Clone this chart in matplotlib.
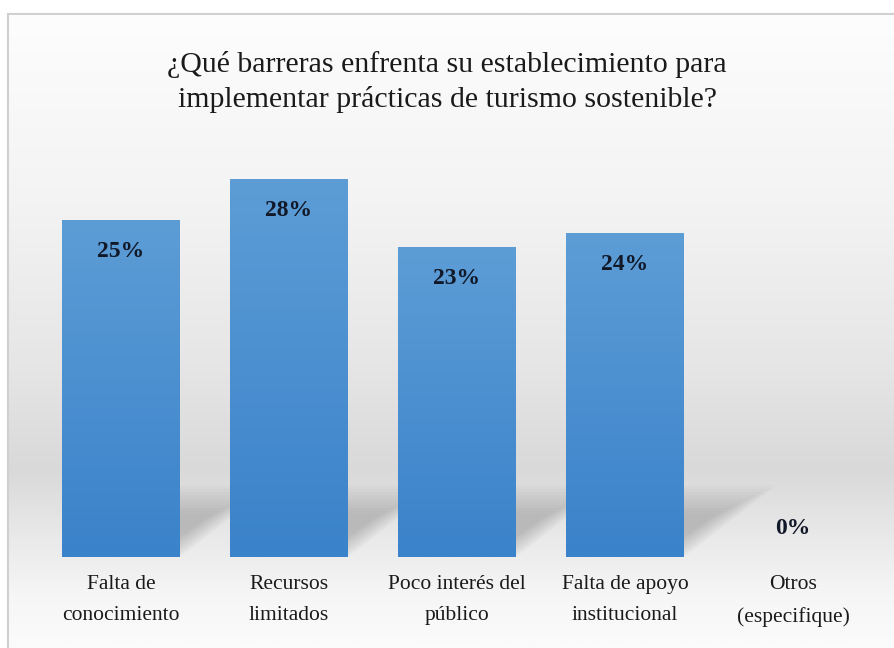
import numpy as np
import matplotlib
matplotlib.use("Agg")
import matplotlib.pyplot as plt
from matplotlib.colors import LinearSegmentedColormap
from matplotlib.patches import Polygon, Rectangle

plt.rcParams['font.family'] = ['Liberation Serif', 'DejaVu Serif']

categories = ["Falta de\nconocimiento", "Recursos\nlimitados", "Poco interés del\npúblico",
              "Falta de apoyo\ninstitucional", "Otros\n(especifique)"]
values = [0.25, 0.28, 0.23, 0.24, 0.00]
value_labels = ["25%", "28%", "23%", "24%", "0%"]
title = "¿Qué barreras enfrenta su establecimiento para\nimplementar prácticas de turismo sostenible?"

W, H = 894, 648
fig = plt.figure(figsize=(W / 100, H / 100), dpi=100)
fig.patch.set_facecolor("white")

# background panel with vertical gradient
bg = fig.add_axes([8 / W, 0, 1 - 8 / W, 1 - 14 / H], zorder=0)
stops = [(0.0, "#fdfdfd"), (0.30, "#f3f3f3"), (0.55, "#e6e6e6"), (0.72, "#d9d9d9"),
         (0.82, "#e8e8e8"), (0.92, "#f6f6f6"), (1.0, "#fbfbfb")]
bgcmap = LinearSegmentedColormap.from_list("bg", stops)
grad = np.linspace(0, 1, 400).reshape(-1, 1)
bg.imshow(grad, aspect="auto", cmap=bgcmap, extent=[0, 1, 0, 1], origin="upper")
bg.set_xlim(0, 1); bg.set_ylim(0, 1)
bg.axis("off")

# frame lines
fig.add_artist(plt.Line2D([8 / W, 1], [1 - 14 / H, 1 - 14 / H], color="#d0d0d0", lw=1.5, transform=fig.transFigure))
fig.add_artist(plt.Line2D([8 / W, 8 / W], [0, 1 - 14 / H], color="#d0d0d0", lw=1.5, transform=fig.transFigure))

# main axes
left_px, right_px = 37, 877
bottom_px, top_px = 557, 152
ax = fig.add_axes([left_px / W, 1 - bottom_px / H, (right_px - left_px) / W, (bottom_px - top_px) / H], zorder=1)
ax.patch.set_alpha(0)
for s in ax.spines.values():
    s.set_visible(False)
ax.set_yticks([])
ax.set_xticks(range(len(categories)))
ax.set_xticklabels(categories, fontsize=15.5, color="#1a1a1a", linespacing=1.85)
ax.tick_params(axis="x", length=0, pad=13)

bar_w = 0.70
barcmap = LinearSegmentedColormap.from_list("bar", ["#3a82ca", "#5d9dd6"])
bgrad = np.linspace(0, 1, 200).reshape(-1, 1)

bars = ax.bar(range(len(categories)), values, width=bar_w, color="none", zorder=3)

# soft shadows
sh_h = 0.053
sh_dx = 0.55
n_layers = 10
for i, v in enumerate(values):
    if v <= 0:
        continue
    x0 = i - bar_w / 2
    x1 = i + bar_w / 2
    for k in range(n_layers):
        s = 1.0 - k * 0.045
        poly = Polygon([(x0, 0), (x1 - 0.02 * k, 0),
                        (x1 + sh_dx * s - 0.015 * k, sh_h * s),
                        (x0 + sh_dx * s, sh_h * s)],
                       closed=True, facecolor="#8c8c8c", edgecolor="none", alpha=0.06, zorder=2)
        ax.add_patch(poly)

# gradient bars
for b in bars:
    x, w, h = b.get_x(), b.get_width(), b.get_height()
    if h <= 0:
        continue
    im = ax.imshow(bgrad, aspect="auto", cmap=barcmap, extent=[x, x + w, 0, h], origin="lower", zorder=3)
    im.set_clip_path(Rectangle((x, 0), w, h, transform=ax.transData))
ax.set_xlim(-0.5, len(categories) - 0.5)
ax.set_ylim(0, 0.30)

# value labels
for i, (v, lab) in enumerate(zip(values, value_labels)):
    off = -32 if v > 0 else 29
    ax.annotate(lab, (i, v), xytext=(0, off), textcoords="offset pixels",
                ha="center", va="center", fontsize=17, fontweight="bold", color="#111827", zorder=5)

fig.text(0.5, 1 - 82 / H, title, ha="center", va="center", fontsize=21.5, color="#1a1a1a", linespacing=1.42)

fig.savefig("out.png", dpi=100)
